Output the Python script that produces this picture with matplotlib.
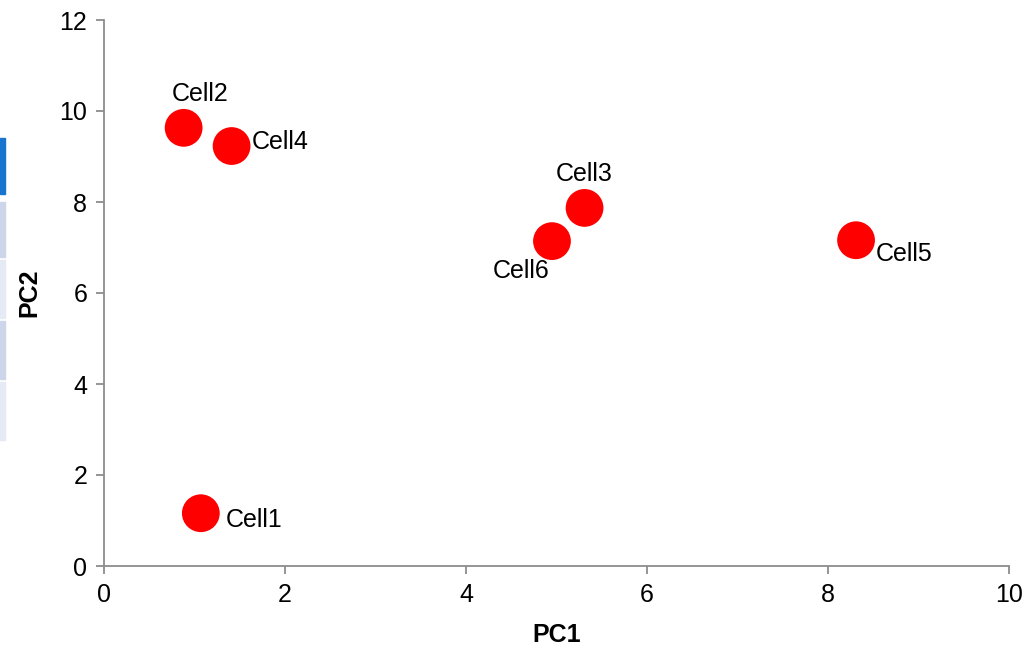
import matplotlib.pyplot as plt
from matplotlib.patches import Rectangle

# PCA scores per cell
cells = ['Cell1', 'Cell2', 'Cell3', 'Cell4', 'Cell5', 'Cell6']
pc1 = [1.07, 0.88, 5.31, 1.41, 8.31, 4.95]
pc2 = [1.16, 9.63, 7.87, 9.23, 7.16, 7.14]

# label offsets in points (dx, dy), text left-aligned and vertically centred
label_pos = {
    'Cell1': (18, -5),
    'Cell2': (-8.6, 24.5),
    'Cell3': (-21, 24.5),
    'Cell4': (14.4, 3),
    'Cell5': (14.4, -10),
    'Cell6': (-43, -21.5),
}

plt.rcParams['font.family'] = ['Liberation Sans', 'DejaVu Sans']

fig = plt.figure(figsize=(10.36, 6.49), dpi=100)
ax = fig.add_axes([104 / 1036, 1 - 566 / 649, 905 / 1036, 546 / 649])

ax.scatter(pc1, pc2, s=740, color='#FF0000', edgecolors='none', zorder=3)
for name, x, y in zip(cells, pc1, pc2):
    dx, dy = label_pos[name]
    ax.annotate(name, (x, y), xytext=(dx, dy), textcoords='offset points',
                ha='left', va='center', fontsize=18, color='black')

ax.set_xlim(0, 10)
ax.set_ylim(0, 12)
ax.set_xticks(range(0, 11, 2))
ax.set_yticks(range(0, 13, 2))
ax.spines['top'].set_visible(False)
ax.spines['right'].set_visible(False)
for sp in ('left', 'bottom'):
    ax.spines[sp].set_color('#8C8C8C')
    ax.spines[sp].set_linewidth(1.3)
ax.tick_params(direction='out', length=6, width=1.3, color='#8C8C8C',
               labelsize=18, labelcolor='black', pad=6)
ax.set_xlabel('PC1', fontsize=18, fontweight='bold', labelpad=12)
ax.set_ylabel('PC2', fontsize=18, fontweight='bold', labelpad=13)

# strip of panel tabs along the left edge
tabs = [(138, 194, '#1874CD'), (202, 257, '#CDD5EA'), (260, 318, '#E6EAF5'),
        (321, 379, '#CDD5EA'), (382, 440, '#E6EAF5')]
for top, bottom, col in tabs:
    fig.patches.append(Rectangle((0, 1 - bottom / 649), 5 / 1036, (bottom - top) / 649,
                                 transform=fig.transFigure, color=col, zorder=0))

fig.savefig('out.png', dpi=100)
